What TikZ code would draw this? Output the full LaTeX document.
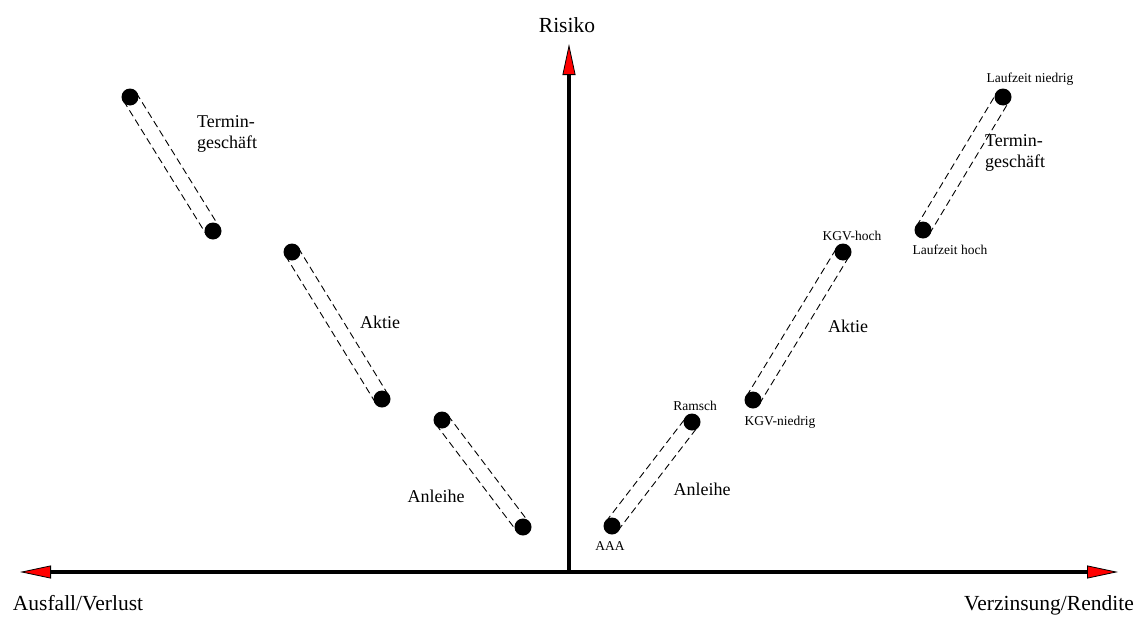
\documentclass[tikz,border=0pt]{standalone}
\usepackage{fontspec}
\setmainfont{Liberation Serif}
\usetikzlibrary{arrows.meta,calc}
\tikzset{
  dotnode/.style={circle,fill=black,draw=none,minimum size=17pt,inner sep=0pt},
  dashline/.style={dash pattern=on 7pt off 4pt,line width=0.9pt},
  axisline/.style={line width=3.3pt,-{Triangle[length=31pt,width=13pt,fill=red,line width=0.8pt]}},
  axislabel/.style={inner sep=0pt,anchor=base,font=\fontsize{21.5}{24}\selectfont},
  kindlabel/.style={inner sep=0pt,font=\fontsize{18}{21}\selectfont},
  smalllabel/.style={inner sep=0pt,anchor=base,font=\fontsize{13.5}{16}\selectfont},
}
\begin{document}
\begin{tikzpicture}[x=1pt,y=-1pt]
\useasboundingbox (0,0) rectangle (1143,616);
% axes
\coordinate (o) at (569,572);
\coordinate (left) at (20,572);
\coordinate (right) at (1118,572);
\coordinate (top) at (569,44);
\draw[axisline] (o) -- (left);
\draw[axisline] (o) -- (right);
\draw[axisline] (o) -- (top);
\node[axislabel] (risiko) at (567,32) {Risiko};
\node[axislabel] (ausfall) at (78,610) {Ausfall/Verlust};
\node[axislabel] (verzins) at (1049,610) {Verzinsung/Rendite};
% dots
\coordinate (t1a) at (130,97);  \coordinate (t1b) at (213,231);
\coordinate (a1a) at (292,252); \coordinate (a1b) at (382,399);
\coordinate (n1a) at (442,420); \coordinate (n1b) at (523,527);
\coordinate (n2a) at (612,526); \coordinate (n2b) at (692,422);
\coordinate (a2a) at (753,400); \coordinate (a2b) at (843,252);
\coordinate (t2a) at (923,230); \coordinate (t2b) at (1003,97);
\foreach \a/\b in {t1a/t1b,a1a/a1b,n1a/n1b,n2a/n2b,a2a/a2b,t2a/t2b}{
  \draw[dashline] ($(\a)!7.5pt!90:(\b)$) -- ($(\b)!7.5pt!-90:(\a)$);
  \draw[dashline] ($(\a)!7.5pt!-90:(\b)$) -- ($(\b)!7.5pt!90:(\a)$);
}
\foreach \p in {t1a,t1b,a1a,a1b,n1a,n1b,n2a,n2b,a2a,a2b,t2a,t2b}{
  \node[dotnode] (d\p) at (\p) {};
}
% kind labels
\node[kindlabel,anchor=base west,align=left] (term1) at (197,148) {Termin-\\geschäft};
\node[kindlabel,anchor=base] (aktie1) at (380,328) {Aktie};
\node[kindlabel,anchor=base] (anl1) at (436,502) {Anleihe};
\node[kindlabel,anchor=base] (anl2) at (702,495) {Anleihe};
\node[kindlabel,anchor=base] (aktie2) at (848,332) {Aktie};
\node[kindlabel,anchor=base west,align=left] (term2) at (985,167) {Termin-\\geschäft};
% small labels
\node[smalllabel] (ramsch) at (695,410) {Ramsch};
\node[smalllabel] (aaa) at (610,550) {AAA};
\node[smalllabel] (kgvh) at (852,240) {KGV-hoch};
\node[smalllabel] (kgvn) at (780,425) {KGV-niedrig};
\node[smalllabel] (lzn) at (1030,82) {Laufzeit niedrig};
\node[smalllabel] (lzh) at (950,254) {Laufzeit hoch};
\end{tikzpicture}
\end{document}
